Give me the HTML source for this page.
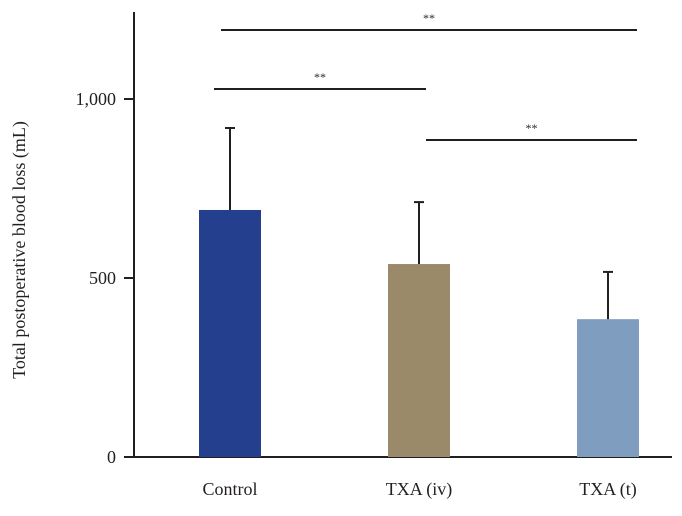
<!DOCTYPE html>
<html><head><meta charset="utf-8"><style>
body{margin:0;background:#fff;}
svg text{font-family:"Liberation Serif",serif;fill:#231f20;}
</style></head><body>
<svg width="682" height="511" viewBox="0 0 682 511">
<g id="g"></g>
</svg>
<script>
const categories=["Control","TXA (iv)","TXA (t)"];
const values=[690,539,385];
const errors=[229,173,132];
const colors=["#233f8e","#9a8a6a","#7f9ebf"];
const ticks=[0,500,1000];
const tickLabels=["0","500","1,000"];
const sigPairs=[[0,2],[0,1],[1,2]];
const sigLevels=[30,89,140];
const ns="http://www.w3.org/2000/svg";
const g=document.getElementById('g');
const y=v=>457-v*0.358;
const cx=i=>230+i*189;
function el(t,a,txt){const e=document.createElementNS(ns,t);for(const k in a)e.setAttribute(k,a[k]);if(txt!=null)e.textContent=txt;g.appendChild(e);return e;}
let e=el('line',{x1:134,y1:12,x2:134,y2:458,stroke:'#231f20','stroke-width':2});

e=el('line',{x1:133,y1:457,x2:672,y2:457,stroke:'#231f20','stroke-width':2});

ticks.forEach((t,i)=>{
 e=el('line',{x1:124,y1:y(t),x2:134,y2:y(t),stroke:'#231f20','stroke-width':2});
 
 e=el('text',{x:116,y:y(t)+6,'text-anchor':'end','font-size':18},tickLabels[i]);
 
});
e=el('text',{x:0,y:0,'text-anchor':'middle','font-size':18,transform:'translate(25,250) rotate(-90)'},'Total postoperative blood loss (mL)');

categories.forEach((c,i)=>{
 e=el('rect',{x:cx(i)-31,y:y(values[i]),width:62,height:457-y(values[i]),fill:colors[i]});
 
 const top=y(values[i]+errors[i]);
 e=el('line',{x1:cx(i),y1:y(values[i]),x2:cx(i),y2:top,stroke:'#231f20','stroke-width':2});
 
 e=el('line',{x1:cx(i)-5,y1:top,x2:cx(i)+5,y2:top,stroke:'#231f20','stroke-width':2});
 
 e=el('text',{x:cx(i),y:495,'text-anchor':'middle','font-size':18},c);
 
});
sigPairs.forEach((p,k)=>{
 const x1=p[0]===0&&p[1]===1?214:(p[0]===0?221:426), x2=p[1]===1?426:637;
 const yy=sigLevels[k];
 e=el('line',{x1:x1,y1:yy,x2:x2,y2:yy,stroke:'#231f20','stroke-width':2});
 
 e=el('text',{x:(x1+x2)/2,y:yy-8,'text-anchor':'middle','font-size':12},'**');
 
});
</script>
</body></html>
